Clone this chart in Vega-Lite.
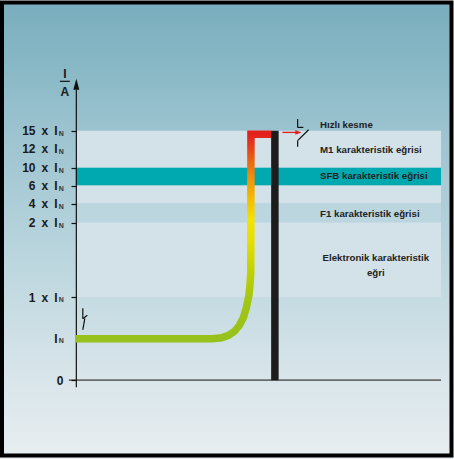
{
  "$schema": "https://vega.github.io/schema/vega-lite/v6.json",
  "width": 454,
  "height": 459,
  "autosize": {"type": "fit", "contains": "padding"},
  "padding": 0,
  "config": {"view": {"stroke": null}},
  "datasets": {
    "bg": [{"x": -76, "xEnd": 378, "y": 380, "yEnd": -79}],
    "frame": [{"x": -74, "xEnd": 376.5, "y": 378.5, "yEnd": -75.5}],
    "bands": [
      {"band": "M1", "x": 0, "xEnd": 366, "y": 213, "yEnd": 250},
      {"band": "SFB", "x": 0, "xEnd": 366, "y": 195, "yEnd": 213},
      {"band": "ara", "x": 0, "xEnd": 366, "y": 177, "yEnd": 195},
      {"band": "F1", "x": 0, "xEnd": 366, "y": 158, "yEnd": 177},
      {"band": "Elektronik", "x": 0, "xEnd": 366, "y": 83, "yEnd": 158}
    ],
    "baseline": [{"x": -7, "xEnd": 366, "y": 0}],
    "axisLine": [{"x": 0.5, "y": -7, "yEnd": 291}],
    "axisArrow": [{"x": 0.5, "y": 296.5}],
    "curve": [
      {"order": 1, "x": 0, "y": 41.5},
      {"order": 2, "x": 137, "y": 41.5},
      {"order": 3, "x": 146, "y": 42.5},
      {"order": 4, "x": 153, "y": 45},
      {"order": 5, "x": 159, "y": 49},
      {"order": 6, "x": 164, "y": 55},
      {"order": 7, "x": 168, "y": 63},
      {"order": 8, "x": 171, "y": 73},
      {"order": 9, "x": 173.5, "y": 85},
      {"order": 10, "x": 174.7, "y": 97},
      {"order": 11, "x": 175.3, "y": 108},
      {"order": 12, "x": 175.5, "y": 246.5},
      {"order": 13, "x": 196, "y": 246.5}
    ],
    "bar": [{"x": 199.5, "y": 0, "yEnd": 250}],
    "redArrow": [{"x": 207, "xEnd": 221, "y": 248.3}],
    "redHead": [{"x": 223, "y": 248.3}],
    "strokes": [
      {"x": 222.3, "y": 261.7, "xEnd": 222.3, "yEnd": 253.3},
      {"x": 222.3, "y": 253.3, "xEnd": 228, "yEnd": 253.3},
      {"x": 233.3, "y": 251, "xEnd": 222.3, "yEnd": 240},
      {"x": 222.3, "y": 240, "xEnd": 222.3, "yEnd": 234},
      {"x": 7, "y": 72, "xEnd": 7, "yEnd": 61.5},
      {"x": 7, "y": 61.5, "xEnd": 11.5, "yEnd": 65},
      {"x": 9, "y": 62, "xEnd": 7, "yEnd": 50.5},
      {"x": -16, "y": 299.5, "xEnd": -6, "yEnd": 299.5}
    ],
    "leftNotes": [
      {"x": 244.7, "y": 255.5, "label": "Hızlı kesme"},
      {"x": 244.7, "y": 231, "label": "M1 karakteristik eğrisi"},
      {"x": 244.7, "y": 205, "label": "SFB karakteristik eğrisi"},
      {"x": 244.7, "y": 167, "label": "F1 karakteristik eğrisi"}
    ],
    "centerNotes": [
      {"x": 300.7, "y": 122, "label": "Elektronik karakteristik"},
      {"x": 300.7, "y": 107, "label": "eğri"}
    ],
    "subN": [
      {"x": -17, "y": 250, "label": "N"},
      {"x": -17, "y": 232, "label": "N"},
      {"x": -17, "y": 213, "label": "N"},
      {"x": -17, "y": 195, "label": "N"},
      {"x": -17, "y": 177, "label": "N"},
      {"x": -17, "y": 158, "label": "N"},
      {"x": -17, "y": 83, "label": "N"},
      {"x": -17, "y": 42, "label": "N"}
    ],
    "unit": [
      {"x": -11, "y": 303, "label": "I"},
      {"x": -11, "y": 285, "label": "A"}
    ]
  },
  "encoding": {
    "x": {"field": "x", "type": "quantitative", "scale": {"domain": [-76, 378], "nice": false, "zero": false}, "axis": null},
    "y": {
      "field": "y", "type": "quantitative",
      "scale": {"domain": [-79, 380], "nice": false, "zero": false},
      "axis": {
        "title": null, "offset": -76, "domain": false, "grid": false, "zindex": 2,
        "values": [0, 42, 83, 158, 177, 195, 213, 232, 250],
        "tickSize": 5, "tickColor": "#111111", "tickWidth": 1.2,
        "tickOpacity": {"condition": {"test": "datum.value == 232 || datum.value == 42", "value": 0}, "value": 1},
        "labelPadding": {"condition": {"test": "datum.value == 0", "value": 8}, "value": 14},
        "labelFont": "Liberation Sans", "labelFontWeight": "bold", "labelFontSize": 12, "labelColor": "#1a1a1a",
        "labelBaseline": "middle", "labelFlush": false, "labelOverlap": false, "labelBound": false,
        "labelExpr": "datum.value == 250 ? '15\u2002x\u2002I' : datum.value == 232 ? '12\u2002x\u2002I' : datum.value == 213 ? '10\u2002x\u2002I' : datum.value == 195 ? '6\u2002x\u2002I' : datum.value == 177 ? '4\u2002x\u2002I' : datum.value == 158 ? '2\u2002x\u2002I' : datum.value == 83 ? '1\u2002x\u2002I' : datum.value == 42 ? 'I' : '0'"
      }
    }
  },
  "layer": [
    {
      "data": {"name": "bg"},
      "mark": {"type": "rect", "color": {"gradient": "linear", "x1": 0, "y1": 0, "x2": 0, "y2": 1, "stops": [
        {"offset": 0, "color": "#79adbd"},
        {"offset": 0.13, "color": "#87b7c5"},
        {"offset": 0.28, "color": "#9bc3cf"},
        {"offset": 0.46, "color": "#afcfd9"},
        {"offset": 0.65, "color": "#c5dbe2"},
        {"offset": 0.82, "color": "#d8e5ea"},
        {"offset": 1, "color": "#e8eef1"}
      ]}},
      "encoding": {"x2": {"field": "xEnd"}, "y2": {"field": "yEnd"}}
    },
    {
      "data": {"name": "bands"},
      "mark": {"type": "rect"},
      "encoding": {
        "x2": {"field": "xEnd"}, "y2": {"field": "yEnd"},
        "color": {"field": "band", "type": "nominal", "legend": null,
          "scale": {"domain": ["M1", "SFB", "ara", "F1", "Elektronik"], "range": ["#d3e2e8", "#00a8b0", "#d3e2e8", "#bcd6df", "#d3e2e8"]}}
      }
    },
    {
      "data": {"name": "baseline"},
      "mark": {"type": "rule", "color": "#6b6b6b", "strokeWidth": 1.8},
      "encoding": {"x2": {"field": "xEnd"}}
    },
    {
      "data": {"name": "axisLine"},
      "mark": {"type": "rule", "color": "#111111", "strokeWidth": 1.2},
      "encoding": {"y2": {"field": "yEnd"}}
    },
    {
      "data": {"name": "axisArrow"},
      "mark": {"type": "point", "shape": "M-0.55,1L0,-1L0.55,1Z", "size": 121, "filled": true, "color": "#111111", "opacity": 1, "strokeWidth": 0},
      "encoding": {}
    },
    {
      "data": {"name": "curve"},
      "mark": {"type": "line", "strokeWidth": 7.5, "strokeJoin": "miter", "strokeCap": "butt",
        "stroke": {"gradient": "linear", "x1": 0, "y1": 1, "x2": 0, "y2": 0, "stops": [
          {"offset": 0, "color": "#97c11c"},
          {"offset": 0.19, "color": "#a3c614"},
          {"offset": 0.33, "color": "#c2d100"},
          {"offset": 0.48, "color": "#e6df00"},
          {"offset": 0.58, "color": "#f4e300"},
          {"offset": 0.7, "color": "#f3b600"},
          {"offset": 0.8, "color": "#ef8a0a"},
          {"offset": 0.9, "color": "#e85417"},
          {"offset": 0.97, "color": "#e42d1c"},
          {"offset": 1, "color": "#e3201b"}
        ]}},
      "encoding": {"order": {"field": "order", "type": "quantitative"}}
    },
    {
      "data": {"name": "bar"},
      "mark": {"type": "rule", "color": "#1c1c1c", "strokeWidth": 7.5},
      "encoding": {"y2": {"field": "yEnd"}}
    },
    {
      "data": {"name": "redArrow"},
      "mark": {"type": "rule", "color": "#e3201b", "strokeWidth": 1.3},
      "encoding": {"x2": {"field": "xEnd"}}
    },
    {
      "data": {"name": "redHead"},
      "mark": {"type": "point", "shape": "M-1,-0.8L1,0L-1,0.8Z", "size": 36, "filled": true, "color": "#e3201b", "opacity": 1, "strokeWidth": 0},
      "encoding": {}
    },
    {
      "data": {"name": "strokes"},
      "mark": {"type": "rule", "color": "#111111", "strokeWidth": 1.2},
      "encoding": {"x2": {"field": "xEnd"}, "y2": {"field": "yEnd"}}
    },
    {
      "data": {"name": "leftNotes"},
      "mark": {"type": "text", "align": "left", "baseline": "middle", "font": "Liberation Sans", "fontWeight": "bold", "fontSize": 9.7, "color": "#222222"},
      "encoding": {"text": {"field": "label"}}
    },
    {
      "data": {"name": "centerNotes"},
      "mark": {"type": "text", "align": "center", "baseline": "middle", "font": "Liberation Sans", "fontWeight": "bold", "fontSize": 9.7, "color": "#222222"},
      "encoding": {"text": {"field": "label"}}
    },
    {
      "data": {"name": "subN"},
      "mark": {"type": "text", "align": "left", "baseline": "alphabetic", "dy": 5, "font": "Liberation Sans", "fontWeight": "bold", "fontSize": 7, "color": "#333333"},
      "encoding": {"text": {"field": "label"}}
    },
    {
      "data": {"name": "unit"},
      "mark": {"type": "text", "align": "center", "baseline": "alphabetic", "font": "Liberation Sans", "fontWeight": "bold", "fontSize": 12, "color": "#1a1a1a"},
      "encoding": {"text": {"field": "label"}}
    },
    {
      "data": {"name": "frame"},
      "mark": {"type": "rect", "fill": "transparent", "stroke": "#000000", "strokeWidth": 4},
      "encoding": {"x2": {"field": "xEnd"}, "y2": {"field": "yEnd"}}
    }
  ]
}
